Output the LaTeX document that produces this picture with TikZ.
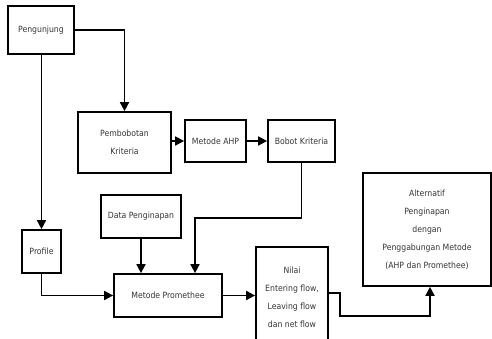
\documentclass[tikz,border=0pt]{standalone}
\usepackage{fontspec}
\setmainfont{DejaVu Sans Condensed}
\usetikzlibrary{arrows.meta}
\tikzset{
  kotak/.style={draw,line width=1.7pt,align=center,inner sep=2pt,
    font=\fontsize{8.6}{18}\selectfont,text=black!80},
  panah/.style={line width=1.7pt,-{Triangle[width=9pt,length=9pt]}},
  garis/.style={line width=1.7pt}
}
\begin{document}
\begin{tikzpicture}[x=1pt,y=-1pt]
   \useasboundingbox (0,0) rectangle (492,339);
   \clip (0,0) rectangle (492,339);
   \node[kotak,minimum width=66pt,minimum height=48pt] (peng) at (41,30) {Pengunjung};
   \node[kotak,minimum width=93pt,minimum height=61pt] (pemb) at (124.5,142.5) {Pembobotan\\Kriteria};
   \node[kotak,minimum width=61pt,minimum height=42pt] (ahp) at (215.5,141) {Metode AHP};
   \node[kotak,minimum width=67pt,minimum height=42pt] (bobot) at (301.5,141) {Bobot Kriteria};
   \node[kotak,minimum width=39pt,minimum height=43pt] (prof) at (41.5,251.5) {Profile};
   \node[kotak,minimum width=80pt,minimum height=43pt] (data) at (141,216.5) {Data Penginapan};
   \node[kotak,minimum width=108pt,minimum height=43pt] (prom) at (168,295.5) {Metode Promethee};
   \node[kotak,minimum width=72pt,minimum height=100pt] (nilai) at (292,297) {Nilai\\Entering flow,\\Leaving flow\\dan net flow};
   \node[kotak,minimum width=128pt,minimum height=113pt] (alt) at (427,229.5) {Alternatif\\Penginapan\\dengan\\Penggabungan Metode\\(AHP dan Promethee)};
   % connectors
   \coordinate (b1) at (195,218);
   \coordinate (n1) at (340,293);
   \coordinate (n2) at (430,316);
   \draw[panah] (peng.east) -| (pemb.north);
   \draw[panah] (peng.south -| prof.north) -- (prof.north);
   \draw[panah] (pemb.east |- ahp) -- (ahp.west);
   \draw[panah] (ahp.east) -- (bobot.west);
   \draw[panah] (bobot.south) |- (b1) -- (b1 |- prom.north);
   \draw[panah] (data.south) -- (data.south |- prom.north);
   \draw[panah] (prof.south) |- (prom.west);
   \draw[panah] (prom.east) -- (prom.east -| nilai.west);
   \draw[panah] (nilai.east |- n1) -- (n1) |- (n2) -- (n2 |- alt.south);
\end{tikzpicture}
\end{document}
